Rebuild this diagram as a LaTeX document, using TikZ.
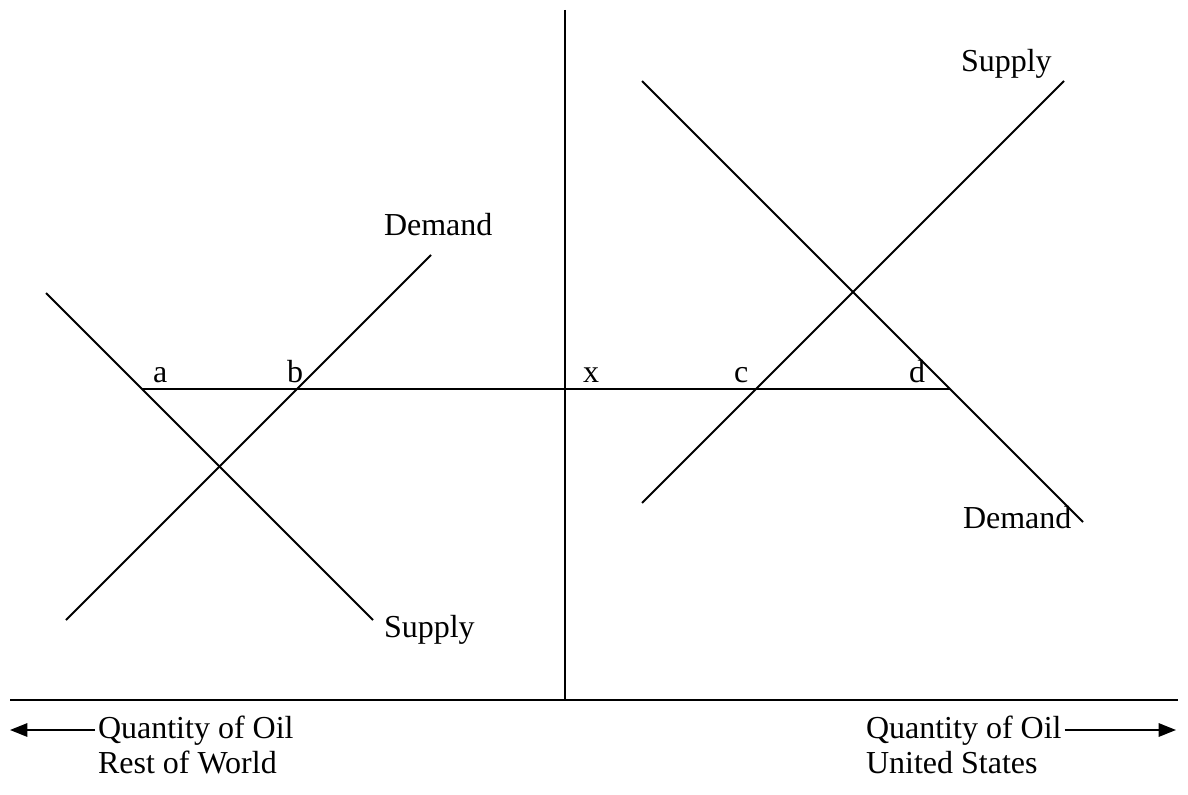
\documentclass[tikz,border=0pt]{standalone}
\usepackage{fontspec}
\setmainfont{Liberation Serif}
\usetikzlibrary{arrows.meta}
\begin{document}
\begin{tikzpicture}[x=0.75pt,y=-0.75pt,
  every path/.style={line width=1.5pt},
  lbl/.style={font=\fontsize{24}{28}\selectfont, inner sep=0pt, anchor=base west},
  curve/.style={line width=1.5pt},
  axisline/.style={line width=1.6pt},
  qarrow/.style={-{Triangle[length=13pt,width=10pt]}, line width=1.5pt}]
\useasboundingbox (0,0) rectangle (1188,795);
% axes
\coordinate (vtop) at (565,10);
\coordinate (vbot) at (565,700);
\coordinate (hl) at (10,700);
\coordinate (hr) at (1178,700);
\draw[axisline] (vtop) -- (vbot);
\draw[axisline] (hl) -- (hr);
% price line
\coordinate (p1) at (142,389);
\coordinate (p2) at (950,389);
\draw[curve] (p1) -- (p2);
% left curves
\coordinate (LS1) at (46,293);
\coordinate (LS2) at (373,620);
\coordinate (LD1) at (66,620);
\coordinate (LD2) at (431,255);
\draw[curve] (LS1) -- (LS2);
\draw[curve] (LD1) -- (LD2);
% right curves
\coordinate (RD1) at (642,81);
\coordinate (RD2) at (1083,522);
\coordinate (RS1) at (642,503);
\coordinate (RS2) at (1064,81);
\draw[curve] (RD1) -- (RD2);
\draw[curve] (RS1) -- (RS2);
% labels
\node[lbl] (demL) at (383,235) {Demand};
\node[lbl] (supL) at (383,637) {Supply};
\node[lbl] (supR) at (960,72) {Supply};
\node[lbl] (demR) at (962,528) {Demand};
\node[lbl] (la) at (152,382) {a};
\node[lbl] (lb) at (286,382) {b};
\node[lbl] (lx) at (582,382) {x};
\node[lbl] (lc) at (733,382) {c};
\node[lbl] (ld) at (908,382) {d};
% bottom captions
\node[lbl] (qL) at (97,738) {Quantity of Oil};
\node[lbl] (rw) at (97,773) {Rest of World};
\node[lbl] (qR) at (865,738) {Quantity of Oil};
\node[lbl] (us) at (865,773) {United States};
\coordinate (aL) at (10,730);
\coordinate (aR) at (1176,730);
\draw[qarrow] (qL.west |- aL) ++(-2,0) -- (aL);
\draw[qarrow] (qR.east |- aR) ++(2,0) -- (aR);
\end{tikzpicture}
\end{document}
